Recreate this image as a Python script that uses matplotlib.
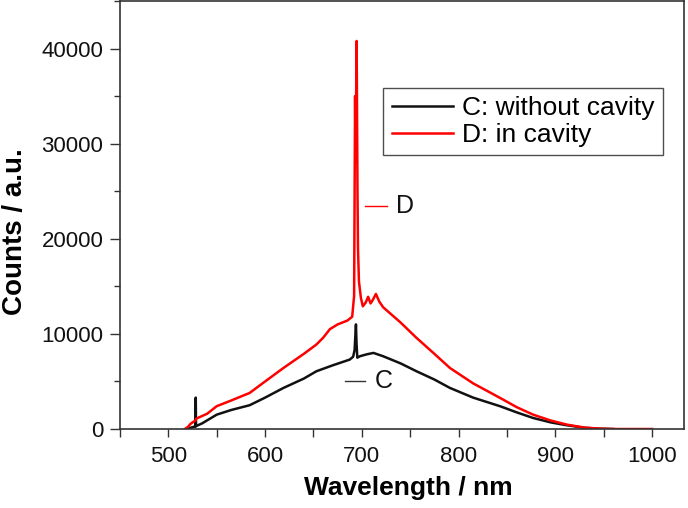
import matplotlib

matplotlib.use("Agg")

import matplotlib.pyplot as plt
from matplotlib.ticker import MultipleLocator

plt.rcParams["font.family"] = ["Liberation Sans", "DejaVu Sans"]

# C: without cavity (wavelength nm, counts)
wl_c = [519, 522, 527, 528, 528.3, 528.6, 535, 550, 565, 584, 600, 619, 640, 653, 670,
        687.5, 691, 692.5, 693.9, 694.5, 695.3, 698, 705, 712, 722, 740, 756.5, 775, 791,
        815, 843, 860, 877, 895, 912, 930, 946, 960]
counts_c = [0, 100, 250, 250, 3300, 300, 600, 1510, 2000, 2500, 3300, 4320, 5300, 6070, 6700,
            7300, 7600, 8300, 11000, 9000, 7500, 7650, 7850, 8000, 7650, 6900, 6070, 5200, 4320,
            3300, 2390, 1750, 1160, 700, 390, 130, 30, 0]

# D: in cavity
wl_d = [517, 520, 523, 528, 529, 540, 550, 565, 584, 600, 619, 640, 653, 660, 667, 675,
        685, 690, 692, 693, 693.5, 694.6, 695.5, 696, 697, 699, 701, 704, 706.5, 709,
        711.5, 714.5, 718, 722, 740, 756.5, 775, 791, 815, 843, 860, 877, 895, 912, 930,
        946, 960, 1000]
counts_d = [0, 200, 550, 900, 1100, 1600, 2400, 3000, 3790, 5000, 6420, 7900, 8880, 9600, 10500, 11000,
            11400, 11800, 14000, 35000, 28000, 40800, 25000, 19000, 15500, 13800, 12900, 13300, 13900, 13200,
            13600, 14200, 13400, 12800, 11200, 9580, 7900, 6420, 4800, 3260, 2300, 1510, 900, 460, 150,
            40, 0, 0]

# curve tags: (line start, line end, y, text x)
tag_d = (703, 725.5, 23400, 735.5)
tag_c = (682.5, 703, 5000, 713)

fig = plt.figure(figsize=(6.88, 5.08), dpi=100)
ax = fig.add_axes([120 / 688, 79 / 508, 564 / 688, 428 / 508])

ax.plot(wl_c, counts_c, color="#111111", linewidth=1.8, label="C: without cavity")
ax.plot(wl_d, counts_d, color="#ff0000", linewidth=1.8, label="D: in cavity")

ax.plot(tag_d[:2], [tag_d[2]] * 2, color="#ff0000", linewidth=1.0)
ax.text(tag_d[3], tag_d[2], "D", fontsize=18, va="center", ha="left", color="#111111")
ax.plot(tag_c[:2], [tag_c[2]] * 2, color="#333333", linewidth=1.0)
ax.text(tag_c[3], tag_c[2], "C", fontsize=18, va="center", ha="left", color="#111111")

ax.set_xlim(450, 1033)
ax.set_ylim(0, 45000)
ax.xaxis.set_major_locator(MultipleLocator(100))
ax.xaxis.set_minor_locator(MultipleLocator(50))
ax.yaxis.set_major_locator(MultipleLocator(10000))
ax.yaxis.set_minor_locator(MultipleLocator(5000))
ax.set_xticks(range(500, 1001, 100))

ax.tick_params(axis="both", which="both", direction="out", color="#333333", width=1.0,
               labelsize=16, labelcolor="#111111")
ax.tick_params(axis="x", which="both", length=6, pad=6)
ax.tick_params(axis="y", which="major", length=7, pad=5)
ax.tick_params(axis="y", which="minor", length=4)

for spine in ax.spines.values():
    spine.set_color("#333333")
    spine.set_linewidth(1.2)

ax.set_xlabel("Wavelength / nm", fontsize=19, fontweight="bold")
ax.xaxis.set_label_coords(0.512, -0.11)
ax.set_ylabel("Counts / a.u.", fontsize=20, fontweight="bold")
ax.yaxis.set_label_coords(-0.163, 0.46)

leg = ax.legend(loc="upper left", bbox_to_anchor=(0.467, 0.797), borderaxespad=0,
                fontsize=19, frameon=True, fancybox=False, handlelength=2.3,
                handletextpad=0.35, labelspacing=0.1, borderpad=0.32)
leg.get_frame().set_edgecolor("#222222")
leg.get_frame().set_linewidth(1.0)

fig.savefig("out.png", dpi=100)
